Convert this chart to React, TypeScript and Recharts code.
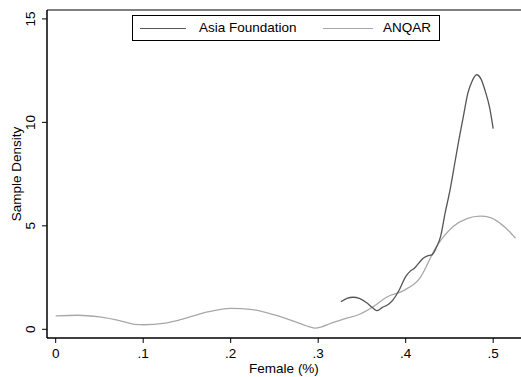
import React from "react";
import {
  LineChart,
  Line,
  XAxis,
  YAxis,
  Legend,
  ReferenceLine,
} from "recharts";

const anqarX = [
  0, 0.025, 0.05, 0.075, 0.09, 0.1, 0.125, 0.15, 0.175, 0.2, 0.225, 0.25,
  0.275, 0.287, 0.296, 0.304, 0.315, 0.33, 0.348, 0.365, 0.378, 0.397, 0.416,
  0.435, 0.454, 0.47, 0.485, 0.497, 0.508, 0.518, 0.5255,
];
const anqarY = [
  0.65, 0.68, 0.6, 0.4, 0.24, 0.22, 0.3, 0.55, 0.85, 1.01, 0.95, 0.7, 0.35,
  0.16, 0.06, 0.12, 0.3, 0.5, 0.74, 1.15, 1.55, 1.86, 2.46, 3.99, 4.96, 5.35,
  5.47, 5.4, 5.12, 4.75, 4.4,
];

const asiaX = [
  0.326, 0.333, 0.34, 0.347, 0.355, 0.362, 0.367, 0.373, 0.38, 0.386, 0.392,
  0.4, 0.405, 0.41, 0.415, 0.42, 0.425, 0.43, 0.435, 0.44, 0.445, 0.451,
  0.456, 0.461, 0.466, 0.471, 0.476, 0.481, 0.486, 0.491, 0.496, 0.5,
];
const asiaY = [
  1.33, 1.5, 1.55, 1.5, 1.3, 1.05, 0.9, 1.05, 1.2, 1.45, 1.85, 2.55, 2.8,
  2.95, 3.2, 3.43, 3.55, 3.6, 3.95, 4.5, 5.6, 6.8, 8.0, 9.2, 10.3, 11.4, 12.0,
  12.3, 12.1, 11.5, 10.7, 9.7,
];

const xTicks = [0, 0.1, 0.2, 0.3, 0.4, 0.5];
const yTicks = [0, 5, 10, 15];

const anqarData = anqarX.map((x, i) => ({ x, y: anqarY[i] }));
const asiaData = asiaX.map((x, i) => ({ x, y: asiaY[i] }));

const X_MIN = -0.00994;
const X_MAX = 0.5318;
const Y_MIN = -0.42;
const Y_MAX = 15.43;

const FONT = "'Liberation Sans', Arial, sans-serif";
const ASIA_COLOR = "#555555";
const ANQAR_COLOR = "#a8a8a8";

const fmtX = (v: number) => (v === 0 ? "0" : String(v).replace(/^0/, ""));

const XTick = (props: any) => {
  const { x, y, payload } = props;
  return (
    <text
      x={x}
      y={y + 13}
      textAnchor="middle"
      fontSize={13.5}
      fontFamily={FONT}
      fill="#000"
    >
      {fmtX(payload.value)}
    </text>
  );
};

const YTick = (props: any) => {
  const { y, payload } = props;
  return (
    <text
      x={0}
      y={0}
      transform={`translate(35, ${y}) rotate(-90)`}
      textAnchor="middle"
      fontSize={13.5}
      fontFamily={FONT}
      fill="#000"
    >
      {payload.value}
    </text>
  );
};

const LegendBox = () => (
  <div
    style={{
      boxSizing: "border-box",
      width: 308,
      height: 26,
      border: "1px solid #000",
      background: "#fff",
      position: "relative",
      fontFamily: FONT,
      fontSize: 13.5,
    }}
  >
    <div
      style={{
        position: "absolute",
        left: 7,
        top: 12,
        width: 46,
        borderTop: `1.2px solid ${ASIA_COLOR}`,
      }}
    />
    <span style={{ position: "absolute", left: 66, top: 4 }}>
      Asia Foundation
    </span>
    <div
      style={{
        position: "absolute",
        left: 190,
        top: 12,
        width: 50,
        borderTop: `1.2px solid ${ANQAR_COLOR}`,
      }}
    />
    <span style={{ position: "absolute", left: 250, top: 4 }}>ANQAR</span>
  </div>
);

export default function App() {
  return (
    <div style={{ position: "absolute", left: 0, top: 0, background: "#fff" }}>
      <LineChart
        width={521}
        height={377}
        margin={{ top: 10, right: 0, left: 0, bottom: 0 }}
      >
        <XAxis
          type="number"
          dataKey="x"
          domain={[X_MIN, X_MAX]}
          allowDataOverflow
          ticks={xTicks}
          interval={0}
          height={39}
          tickSize={5}
          stroke="#000"
          tickLine={{ stroke: "#000" }}
          axisLine={{ stroke: "#000", strokeWidth: 1.5 }}
          tick={<XTick />}
          label={({ viewBox }: any) => (
            <text
              x={viewBox.x + viewBox.width / 2}
              y={373}
              textAnchor="middle"
              fontSize={13.5}
              fontFamily={FONT}
              fill="#000"
            >
              Female (%)
            </text>
          )}
        />
        <YAxis
          type="number"
          dataKey="y"
          domain={[Y_MIN, Y_MAX]}
          allowDataOverflow
          ticks={yTicks}
          interval={0}
          width={47}
          tickSize={5}
          stroke="#000"
          tickLine={{ stroke: "#000" }}
          axisLine={{ stroke: "#000", strokeWidth: 1.5 }}
          tick={<YTick />}
          label={({ viewBox }: any) => (
            <text
              x={0}
              y={0}
              transform={`translate(21, ${viewBox.y + viewBox.height / 2}) rotate(-90)`}
              textAnchor="middle"
              fontSize={13.5}
              fontFamily={FONT}
              fill="#000"
            >
              Sample Density
            </text>
          )}
        />
        <ReferenceLine y={Y_MAX} stroke="#000" strokeWidth={1} />
        <Line
          data={anqarData}
          dataKey="y"
          name="ANQAR"
          type="monotone"
          stroke={ANQAR_COLOR}
          strokeWidth={1.3}
          dot={false}
          isAnimationActive={false}
        />
        <Line
          data={asiaData}
          dataKey="y"
          name="Asia Foundation"
          type="monotone"
          stroke={ASIA_COLOR}
          strokeWidth={1.3}
          dot={false}
          isAnimationActive={false}
        />
        <Legend
          layout="horizontal"
          align="center"
          verticalAlign="middle"
          content={<LegendBox />}
          wrapperStyle={{ left: 132, top: 15, width: 308, height: 26 }}
        />
      </LineChart>
    </div>
  );
}
